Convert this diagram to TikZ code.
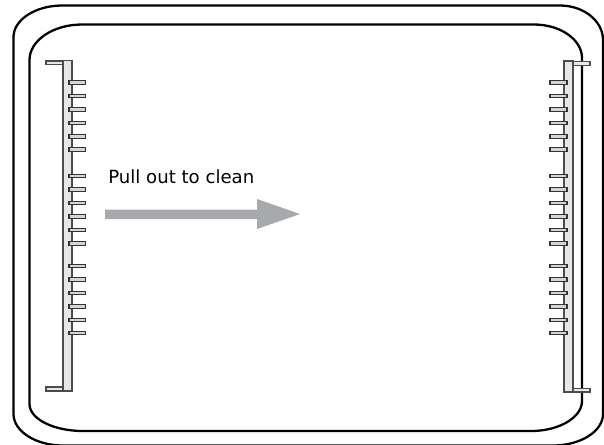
\documentclass[tikz,border=0pt]{standalone}
\usepackage{fontspec}
\setmainfont{DejaVu Sans}
\definecolor{railgray}{HTML}{E6E7E8}
\definecolor{toothgray}{HTML}{D4D5D6}
\definecolor{arrowgray}{HTML}{A8A9AD}
\tikzset{
    wall/.style={draw=black,line width=1.3pt},
    rail/.style={draw=black!70,fill=railgray,line width=0.6pt},
    tooth/.style={draw=black!80,fill=toothgray,line width=0.7pt}
}

\begin{document}
\begin{tikzpicture}[x=0.02cm,y=-0.02cm]
    \useasboundingbox (0,0) rectangle (604,444);
    \clip (0,0) rectangle (604,444);
    % outer wall
    \draw[wall] (13.5,37) .. controls (13.5,19.7) and (35.6,5.5) .. (62,5.5) -- (560,5.5)
        .. controls (583.7,5.5) and (603,21) .. (603,40) -- (603,414)
        .. controls (603,431.3) and (580.5,445.5) .. (553,445.5) -- (63,445.5)
        .. controls (35.8,445.5) and (13.5,431.3) .. (13.5,414) -- cycle;
    % inner wall
    \draw[wall] (29.5,60) .. controls (29.5,40.5) and (53,24.5) .. (82,24.5) -- (534,24.5)
        .. controls (560.4,24.5) and (582,39.6) .. (582,58) -- (582,401)
        .. controls (582,417.5) and (559,431) .. (531,431) -- (83,431)
        .. controls (53.6,431) and (29.5,419) .. (29.5,404) -- cycle;
    % left comb
    \draw[rail] (46,61) rectangle (63,64.5);
    \draw[rail] (46,387) rectangle (63,391);
    \draw[rail] (63,60.5) rectangle (72,391);
    % right comb
    \draw[rail] (564,61) rectangle (573,392);
    \draw[rail] (573,61.5) rectangle (590,65.5);
    \draw[rail] (573,388.5) rectangle (590,392);
    \foreach \row in {82.5,96,109.5,123,136.5,149.5,176,189.5,203,216.5,230,243.5,266,279.5,293,306.5,320,333} {
        \draw[tooth] (69,\row-1.7) rectangle (85.5,\row+1.7);
        \draw[tooth] (550,\row-1.7) rectangle (567,\row+1.7);
    }
    % pull arrow
    \fill[arrowgray] (105,209.5) -- (257,209.5) -- (257,199) -- (300,214)
        -- (257,229) -- (257,219) -- (105,219) -- cycle;
    \node[anchor=base west,inner sep=0pt,font=\fontsize{10.3pt}{12pt}\selectfont] (pull) at (108,183) {Pull out to clean};
\end{tikzpicture}
\end{document}
